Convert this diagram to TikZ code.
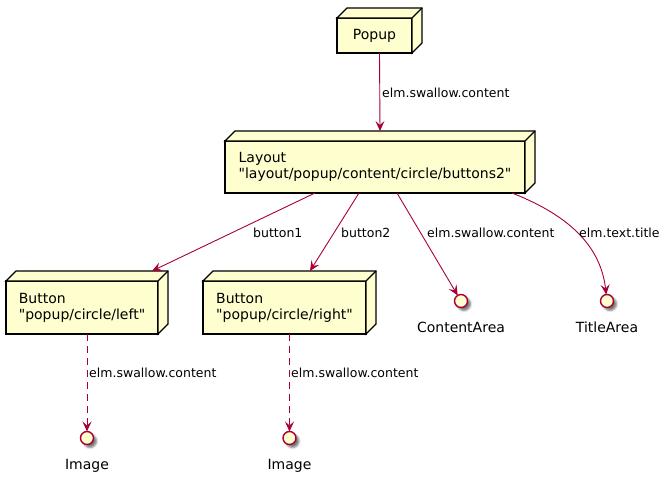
\documentclass[tikz,border=0pt]{standalone}
\usepackage{fontspec}
% plain family without TeX ligatures so that " stays a straight quote
\newfontfamily\umlfamily{DejaVu Sans}
\usetikzlibrary{arrows.meta,calc,shadows.blur}
\definecolor{umlfill}{HTML}{FEFECE}
\definecolor{umlline}{HTML}{A80036}
\pgfdeclarelayer{background}
\pgfsetlayers{background,main}
\newcommand\umlnodefont{\umlfamily\fontsize{14}{16.3}\selectfont}
\newcommand\umllabelfont{\umlfamily\fontsize{12.5}{15}\selectfont}

% 3D "node" box: top and right faces behind-right of the front face, plus a soft shadow
\newcommand\umlextrude[1]{%
  \begin{pgfonlayer}{background}
    \path[boxshadow] (#1.north west) -- ++(10,-10) -- ($(#1.north east)+(10,-10)$)
      -- ($(#1.south east)+(10,-10)$) -- (#1.south east) -- (#1.south west) -- cycle;
  \end{pgfonlayer}
  \draw[boxside] (#1.north west) -- ++(10,-10) -- ($(#1.north east)+(10,-10)$)
    -- ($(#1.south east)+(10,-10)$) -- (#1.south east) -- (#1.north east) -- cycle;
  \draw[boxside] (#1.north east) -- ++(10,-10);
}

\begin{document}
\begin{tikzpicture}[x=1pt,y=-1pt,
  boxfront/.style={rectangle, draw=black, line width=1.2pt, fill=umlfill,
    inner sep=0pt, outer sep=0pt, align=left, font=\umlnodefont},
  boxside/.style={draw=black, line width=1.2pt, fill=umlfill, line join=miter},
  boxshadow/.style={fill=umlfill, blur shadow={shadow xshift=4pt, shadow yshift=-4pt,
    shadow blur radius=2.5pt, shadow opacity=55}},
  iface/.style={circle, draw=umlline, line width=1.4pt, fill=umlfill, minimum size=13pt,
    inner sep=0pt, outer sep=0pt, blur shadow={shadow xshift=3pt, shadow yshift=-3pt,
    shadow blur radius=2pt, shadow opacity=55}},
  ifacelabel/.style={anchor=north, inner sep=0pt, font=\umlnodefont},
  link/.style={draw=umlline, line width=0.9pt,
    -{Stealth[length=10pt, width=9pt, inset=4pt]}},
  weaklink/.style={link, dash pattern=on 7pt off 5pt},
  linklabel/.style={anchor=base west, inner sep=0pt, font=\umllabelfont},
]
\useasboundingbox (0,0) rectangle (671,482);

% component boxes
\node[boxfront, minimum width=75pt, minimum height=35pt] (popup) at (374.5,35.5) {Popup};
\node[boxfront, minimum width=300pt, minimum height=52pt] (layout) at (375,167)
  {Layout\\"layout/popup/content/circle/buttons2"};
\node[boxfront, minimum width=152pt, minimum height=53pt] (btnL) at (82,307.5)
  {Button\\"popup/circle/left"};
\node[boxfront, minimum width=163pt, minimum height=53pt] (btnR) at (284.5,307.5)
  {Button\\"popup/circle/right"};
\umlextrude{popup}
\umlextrude{layout}
\umlextrude{btnL}
\umlextrude{btnR}

% interfaces
\node[iface] (content) at (461,301) {};
\node[iface] (title) at (607,301) {};
\node[iface] (imgL) at (87,438) {};
\node[iface] (imgR) at (289.5,438) {};
\node[ifacelabel] (contentlbl) at ($(content.south)+(0,14.5)$) {ContentArea};
\node[ifacelabel] (titlelbl) at ($(title.south)+(0,14.5)$) {TitleArea};
\node[ifacelabel] (imgLlbl) at ($(imgL.south)+(0,14.5)$) {Image};
\node[ifacelabel] (imgRlbl) at ($(imgR.south)+(0,14.5)$) {Image};

% connectors
\draw[link] ($(popup.south)+(5,0)$) -- ($(layout.north)+(5,-10)$);
\draw[link] ($(layout.south west)+(90,0)$) -- ($(btnL.north)+(70,-10)$);
\draw[link] ($(layout.south west)+(134,0)$) -- ($(btnR.north)+(25.5,-10)$);
\draw[link] ($(layout.south west)+(172,0)$) -- (content);
\draw[link] ($(layout.south east)+(-13,0)$) .. controls (560,212) and (600,240) .. (title);
\draw[weaklink] ($(btnL.south)+(5,0)$) -- (imgL);
\draw[weaklink] ($(btnR.south)+(5,0)$) -- (imgR);

% connector labels
\node[linklabel] (lbl1) at (382,97) {elm.swallow.content};
\node[linklabel] (lbl2) at (253,237) {button1};
\node[linklabel] (lbl3) at (341,237) {button2};
\node[linklabel] (lbl4) at (427,237) {elm.swallow.content};
\node[linklabel] (lbl5) at (579,237) {elm.text.title};
\node[linklabel] (lbl6) at (89,377) {elm.swallow.content};
\node[linklabel] (lbl7) at (291,377) {elm.swallow.content};
\end{tikzpicture}
\end{document}
